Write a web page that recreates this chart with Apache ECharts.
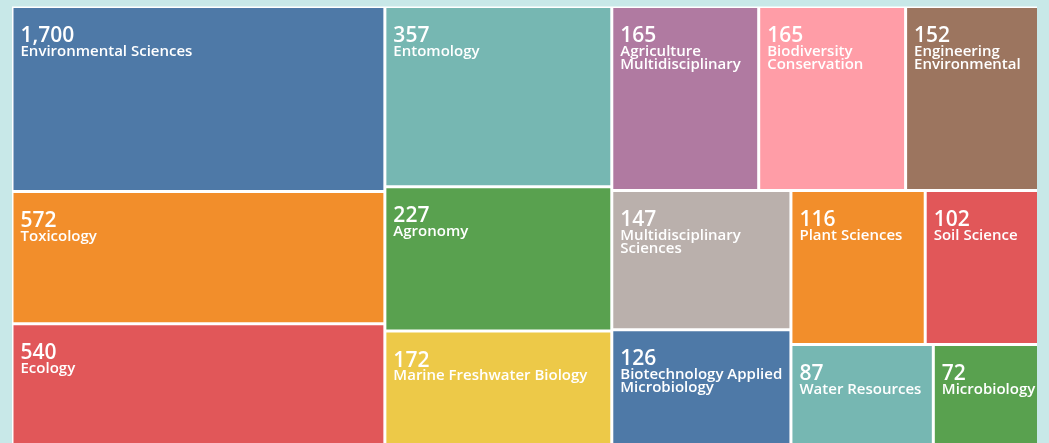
<!DOCTYPE html>
<html>
<head>
<meta charset="utf-8">
<script src="https://cdn.jsdelivr.net/npm/echarts@6/dist/echarts.min.js"></script>
<style>
html,body{margin:0;padding:0;background:#c8e8e8;}
#chart{width:1049px;height:443px;}
</style>
</head>
<body>
<div id="chart"></div>
<script>
// Research areas and record counts
const categories = [
  'Environmental Sciences', 'Toxicology', 'Ecology', 'Entomology', 'Agronomy',
  'Marine Freshwater Biology', 'Agriculture Multidisciplinary', 'Biodiversity Conservation',
  'Engineering Environmental', 'Multidisciplinary Sciences', 'Biotechnology Applied Microbiology',
  'Plant Sciences', 'Soil Science', 'Water Resources', 'Microbiology'
];
const counts = [1700, 572, 540, 357, 227, 172, 165, 165, 152, 147, 126, 116, 102, 87, 72];
const palette = ['#4e79a7', '#f28e2b', '#e15759', '#76b7b2', '#59a14f',
                 '#edc948', '#b07aa1', '#ff9da7', '#9c755f', '#bab0ac'];

// Area encoding: log scale, cell area grows with ln(count / AREA_LOG_BASE)
const AREA_LOG_BASE = 36.7;
const BG = '#c8e8e8';
const FONT = '"Open Sans", "Noto Sans", sans-serif';

// ties listed in reverse so the library's descending sort keeps the original order
const order = counts.map((c, i) => i).sort((a, b) => counts[b] - counts[a] || b - a);
const data = order.map(i => ({
  name: categories[i],
  value: [Math.log(counts[i] / AREA_LOG_BASE), counts[i]],
  itemStyle: {color: palette[i % palette.length]}
}));

const chart = echarts.init(document.getElementById('chart'), null, {renderer: 'canvas'});
chart.setOption({
  backgroundColor: BG,
  animation: false,
  tooltip: {show: false},
  graphic: [{
    type: 'rect', left: 1037, top: 0, z: 100,
    shape: {width: 12, height: 443},
    style: {fill: BG}
  }],
  series: [{
    type: 'treemap',
    left: 12, top: 6.5, width: 1032.5, height: 447,
    squareRatio: 1.71,
    roam: false,
    nodeClick: false,
    breadcrumb: {show: false},
    levels: [
      {itemStyle: {borderColor: '#ffffff', borderWidth: 1.5, gapWidth: 3}},
      {itemStyle: {borderWidth: 0, gapWidth: 0}}
    ],
    label: {
      show: true,
      position: 'insideTopLeft',
      padding: [0, 1, 0, 7],
      offset: [0, 19],
      overflow: 'break',
      formatter: p => '{num|' + p.value[1].toLocaleString('en-US') + '}{name|\n' + p.name + '}',
      rich: {
        num: {fontFamily: FONT, fontWeight: 600, fontSize: 21, lineHeight: 18, color: '#ffffff'},
        name: {fontFamily: FONT, fontWeight: 600, fontSize: 15, lineHeight: 13, color: '#ffffff'}
      }
    },
    upperLabel: {show: false},
    data: data
  }]
});
</script>
</body>
</html>
